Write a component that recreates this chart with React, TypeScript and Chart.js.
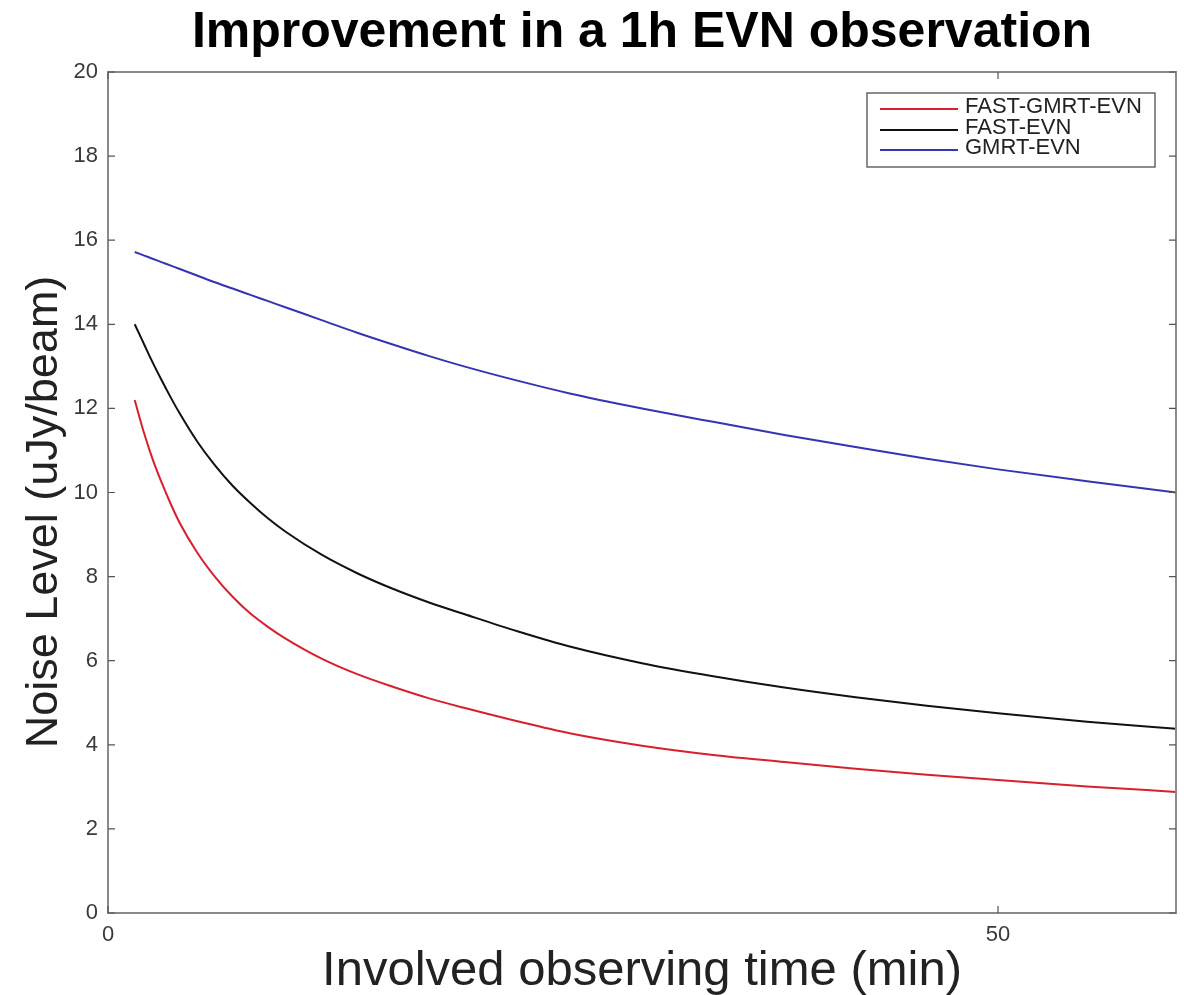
import React, { useEffect, useRef } from "react";
import { Chart, registerables } from "chart.js";

Chart.register(...registerables);

const titleText = "Improvement in a 1h EVN observation";
const xTitle = "Involved observing time (min)";
const yTitle = "Noise Level (uJy/beam)";

const timeMin = [1.5, 2, 2.5, 3, 3.5, 4, 5, 6, 7, 8, 9, 10, 12, 14, 16, 18, 20, 23, 26, 30, 34, 38, 42, 46, 50, 55, 60];
const fastGmrtEvn = [12.2, 11.45, 10.8, 10.25, 9.75, 9.3, 8.58, 8.0, 7.52, 7.12, 6.8, 6.52, 6.05, 5.68, 5.38, 5.11, 4.88, 4.56, 4.27, 3.98, 3.76, 3.59, 3.43, 3.29, 3.16, 3.01, 2.88];
const fastEvn = [14.0, 13.55, 13.1, 12.68, 12.28, 11.9, 11.22, 10.65, 10.16, 9.75, 9.38, 9.06, 8.52, 8.08, 7.71, 7.39, 7.11, 6.7, 6.33, 5.94, 5.63, 5.36, 5.13, 4.93, 4.75, 4.55, 4.38];
const gmrtEvn = [15.72, 15.64, 15.56, 15.48, 15.4, 15.32, 15.16, 15.0, 14.85, 14.7, 14.55, 14.4, 14.1, 13.8, 13.52, 13.25, 13.0, 12.66, 12.35, 12.0, 11.68, 11.37, 11.08, 10.8, 10.55, 10.27, 10.0];

const seriesLabels = ["FAST-GMRT-EVN", "FAST-EVN", "GMRT-EVN"];
const seriesColors = ["#d8202c", "#111111", "#3434b4"];
const xTicks = [0, 50];
const yTicks = [0, 2, 4, 6, 8, 10, 12, 14, 16, 18, 20];

const FONT = '"Liberation Sans", Arial, Helvetica, sans-serif';

const framePlugin = {
  id: "matlabFrame",
  afterDraw(chart: any) {
    const { ctx, chartArea, scales } = chart;
    const { left, right, top, bottom } = chartArea;
    ctx.save();
    // box
    ctx.strokeStyle = "#8a8a8a";
    ctx.lineWidth = 2;
    ctx.strokeRect(left, top, right - left, bottom - top);
    // inward ticks
    ctx.strokeStyle = "#555";
    ctx.lineWidth = 1.2;
    const tl = 7;
    scales.y.ticks.forEach((t: any) => {
      const p = scales.y.getPixelForValue(t.value);
      ctx.beginPath();
      ctx.moveTo(left, p);
      ctx.lineTo(left + tl, p);
      ctx.moveTo(right, p);
      ctx.lineTo(right - tl, p);
      ctx.stroke();
    });
    scales.x.ticks.forEach((t: any) => {
      const p = scales.x.getPixelForValue(t.value);
      ctx.beginPath();
      ctx.moveTo(p, bottom);
      ctx.lineTo(p, bottom - tl);
      ctx.moveTo(p, top);
      ctx.lineTo(p, top + tl);
      ctx.stroke();
    });

    // legend
    const lx = 867, ly = 93, lw = 288, lh = 74;
    ctx.fillStyle = "#ffffff";
    ctx.fillRect(lx, ly, lw, lh);
    ctx.strokeStyle = "#666";
    ctx.lineWidth = 1.5;
    ctx.strokeRect(lx, ly, lw, lh);
    const rows = [107, 128, 148];
    chart.data.datasets.forEach((ds: any, i: number) => {
      const y = rows[i];
      ctx.strokeStyle = ds.borderColor;
      ctx.lineWidth = 2;
      ctx.beginPath();
      ctx.moveTo(880, y + 2);
      ctx.lineTo(958, y + 2);
      ctx.stroke();
      ctx.fillStyle = "#222";
      ctx.font = `22px ${FONT}`;
      ctx.textAlign = "left";
      ctx.textBaseline = "middle";
      ctx.fillText(ds.label, 965, y);
    });

    // titles
    ctx.fillStyle = "#000";
    ctx.textAlign = "center";
    ctx.textBaseline = "alphabetic";
    ctx.font = `bold 50px ${FONT}`;
    ctx.fillText(titleText, (left + right) / 2, 47);

    ctx.fillStyle = "#222";
    ctx.font = `49px ${FONT}`;
    ctx.fillText(xTitle, (left + right) / 2, 985);

    ctx.save();
    ctx.translate(57, 512);
    ctx.rotate(-Math.PI / 2);
    ctx.font = `45px ${FONT}`;
    ctx.fillText(yTitle, 0, 0);
    ctx.restore();

    ctx.restore();
  },
};

export default function App() {
  const ref = useRef<HTMLCanvasElement>(null);

  useEffect(() => {
    if (!ref.current) return;
    const datasets = [fastGmrtEvn, fastEvn, gmrtEvn].map((vals, i) => ({
      label: seriesLabels[i],
      data: timeMin.map((t, j) => ({ x: t, y: vals[j] })),
      borderColor: seriesColors[i],
      backgroundColor: seriesColors[i],
      borderWidth: 2,
      pointRadius: 0,
      cubicInterpolationMode: "monotone" as const,
      fill: false,
    }));
    const chart = new Chart(ref.current, {
      type: "line",
      data: { datasets },
      options: {
        responsive: false,
        animation: false,
        layout: { padding: { top: 72, right: 8, left: 0, bottom: 0 } },
        plugins: {
          legend: { display: false },
          title: { display: false },
          tooltip: { enabled: false },
        },
        scales: {
          x: {
            type: "linear",
            min: 0,
            max: 60,
            afterBuildTicks: (scale: any) => {
              scale.ticks = xTicks.map((v) => ({ value: v }));
            },
            afterFit: (scale: any) => {
              scale.height = 82;
            },
            grid: { display: false, drawTicks: false },
            border: { display: false },
            ticks: {
              padding: 9,
              color: "#3a3a3a",
              font: { family: FONT, size: 22 },
              maxRotation: 0,
              autoSkip: false,
            },
          },
          y: {
            type: "linear",
            min: 0,
            max: 20,
            afterBuildTicks: (scale: any) => {
              scale.ticks = yTicks.map((v) => ({ value: v }));
            },
            afterFit: (scale: any) => {
              scale.width = 108;
            },
            grid: { display: false, drawTicks: false },
            border: { display: false },
            ticks: {
              padding: 10,
              color: "#3a3a3a",
              font: { family: FONT, size: 22 },
              autoSkip: false,
            },
          },
        },
      },
      plugins: [framePlugin],
    });
    return () => chart.destroy();
  }, []);

  return (
    <div style={{ position: "absolute", left: 0, top: 0, width: 1184, height: 995, background: "#fff" }}>
      <canvas ref={ref} width={1184} height={995} style={{ display: "block" }} />
    </div>
  );
}
